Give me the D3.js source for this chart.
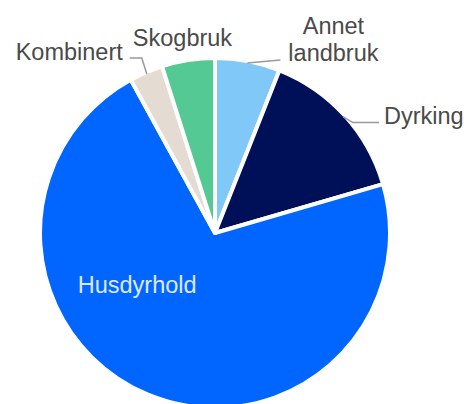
<!DOCTYPE html>
<html>
<head>
<meta charset="utf-8">
<script src="https://cdn.jsdelivr.net/npm/d3@7"></script>
<style>
  html, body { margin: 0; padding: 0; background: #fff; }
  svg { display: block; font-family: "Liberation Sans", Arial, sans-serif; }
  .label { font-size: 23.5px; fill: #4a4a4a; }
  .inner-label { font-size: 23.5px; fill: #dfe9ff; }
  .leader { fill: none; stroke: #999; stroke-width: 1.5; }
</style>
</head>
<body>
<script>
const width = 464;
const height = 404;

// data, clockwise from 12 o'clock
const categories = ['Annet landbruk', 'Dyrking', 'Husdyrhold', 'Kombinert', 'Skogbruk'];
const shares = [6.0, 14.5, 71.5, 3.1, 4.9];
const colors = ['#80c8f8', '#001058', '#0066ff', '#e4dcd2', '#55c994'];

const cx = 215;
const cy = 233;
const radius = 175;

// label placement relative to the outer point of each slice (layout only)
const labelLayout = {
  'Annet landbruk': { lines: ['Annet', 'landbruk'], anchor: 'middle', dx: 86, dy: -2, bend: [0, 0], lineEnd: [33, -3] },
  'Dyrking': { lines: ['Dyrking'], anchor: 'start', dx: 41, dy: 7, bend: [10, 6], lineEnd: [36, 6] },
  'Kombinert': { lines: ['Kombinert'], anchor: 'end', dx: -24, dy: -14, bend: [-5, -16], lineEnd: [-17, -16] },
  'Skogbruk': { lines: ['Skogbruk'], anchor: 'middle', dx: -6, dy: -16, bend: null },
};
// the big slice is labelled inside, shifted from its centroid
const innerOffset = [-41, -29];

const svg = d3.select('body')
  .append('svg')
    .attr('width', width)
    .attr('height', height)
    .attr('viewBox', [0, 0, width, height].join(' '));

const g = svg.append('g')
  .attr('transform', `translate(${cx}, ${cy})`);

const data = categories.map((c, i) => ({ label: c, value: shares[i], color: colors[i] }));

const pie = d3.pie()
  .sort(null)
  .value((d) => d.value);

const arc = d3.arc()
  .innerRadius(0)
  .outerRadius(radius);

const arcs = pie(data);

g.append('g')
  .attr('class', 'slices')
  .selectAll('path')
  .data(arcs)
  .enter()
  .append('path')
    .attr('d', arc)
    .attr('fill', (d) => d.data.color)
    .attr('stroke', '#fff')
    .attr('stroke-width', 4)
    .attr('stroke-linejoin', 'round');

const midAngle = (d) => d.startAngle + (d.endAngle - d.startAngle) / 2;
const outerPoint = (d) => {
  const a = midAngle(d);
  return [Math.sin(a) * (radius - 2), -Math.cos(a) * (radius - 2)];
};

const outside = arcs.filter((d) => labelLayout[d.data.label]);

// leader lines
g.append('g')
  .attr('class', 'lines')
  .selectAll('polyline')
  .data(outside.filter((d) => labelLayout[d.data.label].bend))
  .enter()
  .append('polyline')
    .attr('class', 'leader')
    .attr('points', (d) => {
      const L = labelLayout[d.data.label];
      const p = outerPoint(d);
      return [
        p,
        [p[0] + L.bend[0], p[1] + L.bend[1]],
        [p[0] + L.lineEnd[0], p[1] + L.lineEnd[1]],
      ];
    });

// outside labels
const labels = g.append('g')
  .attr('class', 'labels')
  .selectAll('text')
  .data(outside)
  .enter()
  .append('text')
    .attr('class', 'label')
    .attr('text-anchor', (d) => labelLayout[d.data.label].anchor)
    .attr('transform', (d) => {
      const L = labelLayout[d.data.label];
      const p = outerPoint(d);
      return `translate(${p[0] + L.dx}, ${p[1] + L.dy})`;
    });

labels.each(function (d) {
  const lines = labelLayout[d.data.label].lines;
  const t = d3.select(this);
  lines.forEach((line, i) => {
    t.append('tspan')
      .attr('x', 0)
      .attr('y', (i - (lines.length - 1)) * 27)
      .text(line);
  });
});

// inside label for the big slice
const labelArc = d3.arc()
  .innerRadius(radius * 0.55)
  .outerRadius(radius * 0.55);

g.append('g')
  .selectAll('text')
  .data(arcs.filter((d) => !labelLayout[d.data.label]))
  .enter()
  .append('text')
    .attr('class', 'inner-label')
    .attr('text-anchor', 'middle')
    .attr('transform', (d) => {
      const c = labelArc.centroid(d);
      return `translate(${c[0] + innerOffset[0]}, ${c[1] + innerOffset[1]})`;
    })
    .text((d) => d.data.label);
</script>
</body>
</html>
